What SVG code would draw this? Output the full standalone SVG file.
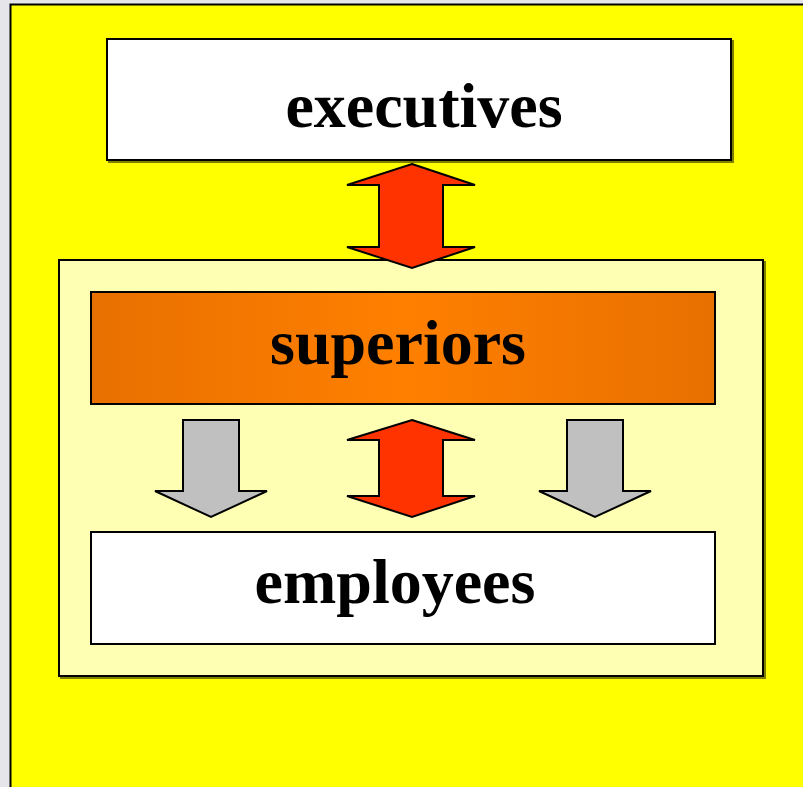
<svg xmlns="http://www.w3.org/2000/svg" width="803" height="787" viewBox="0 0 803 787">
<defs>
<style>
.box{stroke:#000;stroke-width:2}
.lbl{font-family:"Liberation Serif","Times New Roman",serif;font-weight:bold;font-size:64px;fill:#000;text-anchor:middle}
.red{fill:#ff3300;stroke:#000;stroke-width:2;stroke-linejoin:miter}
.gray{fill:#c0c0c0;stroke:#000;stroke-width:2}
</style>
<linearGradient id="og" x1="0" y1="0" x2="1" y2="0">
<stop offset="0" stop-color="#e87000"/>
<stop offset="0.5" stop-color="#ff8000"/>
<stop offset="1" stop-color="#e87000"/>
</linearGradient>
<filter id="sh" x="-5%" y="-5%" width="110%" height="110%">
<feDropShadow dx="2" dy="2" stdDeviation="0.5" flood-color="#000" flood-opacity="0.5"/>
</filter>
</defs>
<rect x="0" y="0" width="803" height="787" fill="#e6e6ea"/>
<rect x="10.5" y="4.5" width="800" height="800" fill="#ffff00" stroke="#000" stroke-width="2"/>
<g id="container"><rect class="box" x="59" y="260" width="704" height="416" fill="#ffffb3" filter="url(#sh)"/></g>
<g id="executives">
<rect class="box" x="107" y="39" width="624" height="121" fill="#fff" filter="url(#sh)"/>
<text class="lbl" x="424" y="127">executives</text>
</g>
<g id="superiors">
<rect class="box" x="91" y="292" width="624" height="112" fill="url(#og)"/>
<text class="lbl" x="398" y="364">superiors</text>
</g>
<g id="employees">
<rect class="box" x="91" y="532" width="624" height="112" fill="#fff"/>
<text class="lbl" x="395" y="603">employees</text>
</g>
<g id="connectors">
<polygon class="red" points="412,164 475,185 443,185 443,247 475,247 412,268 347,247 379,247 379,185 347,185"/>
<polygon class="red" points="412,420 475,440 443,440 443,496 475,496 412,517 347,496 379,496 379,440 347,440"/>
<polygon class="gray" points="183,420 239,420 239,491 267,491 211,517 155,491 183,491"/>
<polygon class="gray" points="567,420 623,420 623,491 651,491 595,517 539,491 567,491"/>
</g>
</svg>
